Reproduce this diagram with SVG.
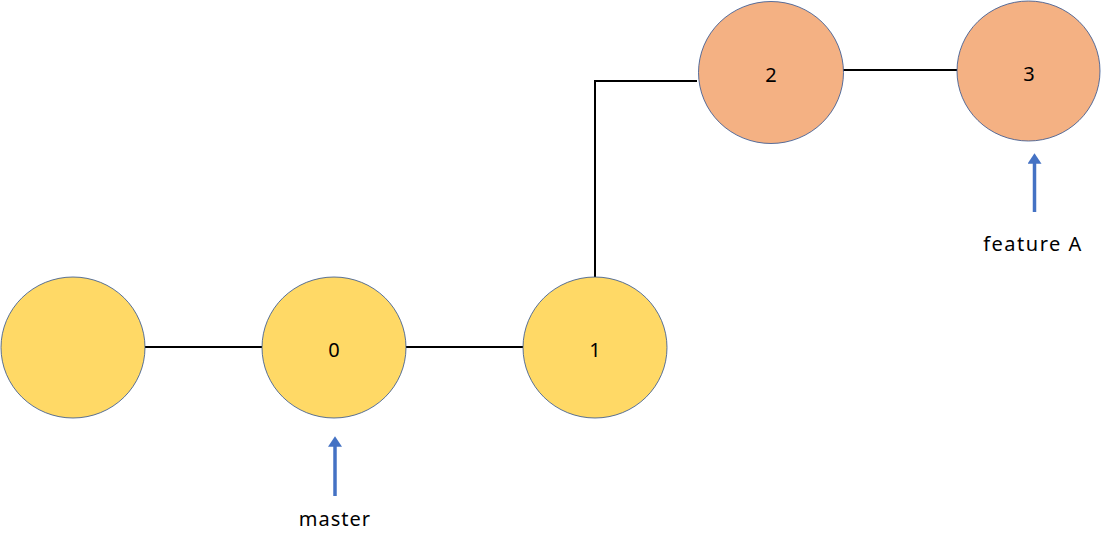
<svg xmlns="http://www.w3.org/2000/svg" width="1110" height="546" viewBox="0 0 1110 546">
  <style>
    .commit { stroke: #2F528F; stroke-width: 0.8; }
    .main { fill: #FFD966; }
    .feat { fill: #F4B183; }
    .lbl { font-family: "Noto Sans", "Liberation Sans", sans-serif; font-size: 20px; fill: #000; text-anchor: middle; }
    .edge { stroke: #000; stroke-width: 2; fill: none; }
    .ptr { stroke: #4472C4; stroke-width: 3.5; fill: none; }
  </style>
  <defs>
    <marker id="head" markerWidth="4" markerHeight="4" refX="0.5" refY="2" orient="auto" markerUnits="strokeWidth">
      <path d="M0,0 L3,2 L0,4 Z" fill="#4472C4"/>
    </marker>
  </defs>

  <g id="connectors">
    <line class="edge" x1="145" y1="347" x2="262" y2="347"/>
    <line class="edge" x1="406" y1="347" x2="523" y2="347"/>
    <polyline class="edge" points="595,277 595,81 697,81"/>
    <line class="edge" x1="843" y1="70" x2="957" y2="70"/>
  </g>

  <g id="node-root">
    <ellipse class="commit main" cx="73" cy="347.5" rx="72" ry="70.5"/>
  </g>
  <g id="node-0">
    <ellipse class="commit main" cx="334" cy="347.5" rx="72" ry="70.5"/>
    <text class="lbl" x="334" y="357">0</text>
  </g>
  <g id="node-1">
    <ellipse class="commit main" cx="595" cy="347.5" rx="72" ry="70.5"/>
    <text class="lbl" x="595" y="357">1</text>
  </g>
  <g id="node-2">
    <ellipse class="commit feat" cx="771" cy="72.5" rx="72.5" ry="71"/>
    <text class="lbl" x="771" y="82">2</text>
  </g>
  <g id="node-3">
    <ellipse class="commit feat" cx="1028.5" cy="71" rx="71.5" ry="70"/>
    <text class="lbl" x="1029" y="81">3</text>
  </g>

  <g id="pointer-master">
    <line class="ptr" x1="335" y1="496" x2="335" y2="445" marker-end="url(#head)"/>
    <text class="lbl" x="335" y="526" letter-spacing="1">master</text>
  </g>
  <g id="pointer-featureA">
    <line class="ptr" x1="1034.5" y1="212" x2="1034.5" y2="162" marker-end="url(#head)"/>
    <text class="lbl" x="1033" y="251" letter-spacing="1.5">feature A</text>
  </g>
</svg>
